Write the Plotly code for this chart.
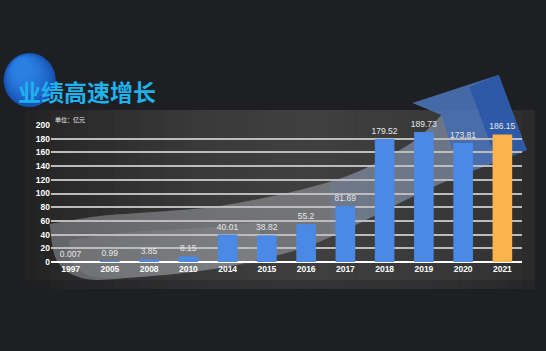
import plotly.graph_objects as go

years = ["1997", "2005", "2008", "2010", "2014", "2015", "2016", "2017", "2018", "2019", "2020", "2021"]
values = [0.007, 0.99, 3.85, 8.15, 40.01, 38.82, 55.2, 81.69, 179.52, 189.73, 173.81, 186.15]
labels = ["0.007", "0.99", "3.85", "8.15", "40.01", "38.82", "55.2", "81.69", "179.52", "189.73", "173.81", "186.15"]
y_ticks = [0, 20, 40, 60, 80, 100, 120, 140, 160, 180, 200]

W, H = 546, 351
L, R, T, B = 51.4, 522.3, 125, 262  # plot area in pixels


def px(x):
    return (x - L) / (R - L)


def py(y):
    return (B - y) / (B - T)


def smooth(pts):
    segs = []
    for i in range(len(pts) - 1):
        p0 = pts[i - 1] if i > 0 else pts[i]
        p1 = pts[i]
        p2 = pts[i + 1]
        p3 = pts[i + 2] if i + 2 < len(pts) else pts[i + 1]
        c1 = (p1[0] + (p2[0] - p0[0]) / 6, p1[1] + (p2[1] - p0[1]) / 6)
        c2 = (p2[0] - (p3[0] - p1[0]) / 6, p2[1] - (p3[1] - p1[1]) / 6)
        segs.append((c1, c2, p2))
    return segs


def fmt(p):
    return f"{px(p[0]):.4f},{py(p[1]):.4f}"


def build(parts):
    out = []
    first = True
    for kind, pts in parts:
        if first:
            out.append("M" + fmt(pts[0]))
            first = False
        if kind == "S":
            for c1, c2, p in smooth(pts):
                out.append("C" + fmt(c1) + " " + fmt(c2) + " " + fmt(p))
        else:
            for p in pts[1:]:
                out.append("L" + fmt(p))
    out.append("Z")
    return " ".join(out)


bar_colors = ["#4a8ae6"] * (len(years) - 1) + ["#fbb34d"]

fig = go.Figure()
fig.add_trace(go.Bar(
    x=years, y=values, width=0.5,
    marker=dict(color=bar_colors, line=dict(width=0)),
    text=labels, textposition="outside", cliponaxis=False, constraintext="none",
    textfont=dict(family="Liberation Sans", size=8.5, color="#e8e8e8"),
    hoverinfo="skip",
))

shapes = []
n = 40
x0p, x1p = 25, 535


def panel_col(t):
    stops = [(0.0, 34), (0.08, 42), (0.35, 58), (0.55, 64), (0.8, 58), (0.95, 50), (1.0, 42)]
    for (a, ca), (b, cb) in zip(stops[:-1], stops[1:]):
        if a <= t <= b:
            return int(ca + (cb - ca) * (t - a) / (b - a))
    return 50


for i in range(n):
    xa = x0p + (x1p - x0p) * i / n
    xb = x0p + (x1p - x0p) * (i + 1) / n + 0.6
    c = panel_col((i + 0.5) / n)
    shapes.append(dict(type="rect", xref="paper", yref="paper", layer="below",
                       x0=px(xa), x1=px(min(xb, x1p)), y0=py(289), y1=py(110),
                       fillcolor=f"rgb({c},{c},{c+1})", line=dict(width=0)))
shapes.append(dict(type="rect", xref="paper", yref="paper", layer="below",
                   x0=px(x0p), x1=px(x1p), y0=py(289), y1=py(280),
                   fillcolor="rgba(20,20,22,0.25)", line=dict(width=0)))

upper = [(50, 224), (100, 216), (153, 212), (220, 206), (300, 190), (360, 171), (413, 142), (442, 115)]
head_pts = [(442, 115), (413, 103), (499, 75), (527, 150)]
lower = [(527, 150), (470, 172), (440, 184), (400, 203), (317, 243), (250, 262), (200, 271), (140, 277), (87, 279), (58, 262), (50, 224)]

body = build([("S", upper), ("L", head_pts), ("S", lower)])
shapes.append(dict(type="path", path=body, xref="paper", yref="paper", layer="below",
                   fillcolor="rgba(228,230,238,0.32)", line=dict(width=0)))

tail_up = [(70, 240), (130, 232), (200, 228), (260, 222)]
tail_lo = [(260, 262), (200, 271), (140, 277), (95, 277), (72, 262), (70, 240)]
tail = build([("S", tail_up), ("L", [(260, 222), (260, 262)]), ("S", tail_lo)])
shapes.append(dict(type="path", path=tail, xref="paper", yref="paper", layer="below",
                   fillcolor="rgba(255,255,255,0.08)", line=dict(width=0)))

up2 = [(330, 184), (360, 171), (413, 142), (442, 115)]
lo2 = [(527, 150), (470, 172), (440, 184), (400, 203), (330, 237)]
body2 = build([("S", up2), ("L", head_pts), ("S", lo2)])
shapes.append(dict(type="path", path=body2, xref="paper", yref="paper", layer="below",
                   fillcolor="rgba(100,140,210,0.20)", line=dict(width=0)))

head = build([("L", [(442, 115), (413, 103), (499, 75), (527, 150), (470, 172), (452, 148)])])
shapes.append(dict(type="path", path=head, xref="paper", yref="paper", layer="below",
                   fillcolor="rgba(55,105,190,0.65)", line=dict(width=0)))
head2 = build([("L", [(470, 87), (499, 75), (527, 150), (497, 161)])])
shapes.append(dict(type="path", path=head2, xref="paper", yref="paper", layer="below",
                   fillcolor="rgba(25,75,165,0.55)", line=dict(width=0)))

# blue circle behind title, soft gradient from upper-left
shapes.append(dict(type="circle", xref="paper", yref="paper", layer="below",
                   x0=px(4), x1=px(56), y0=py(107), y1=py(53),
                   fillcolor="#1248a8", line=dict(width=0)))
steps = 9
for k in range(steps):
    f = k / steps
    xa = 4 + 1.2 * k
    xb = 56 - 3.0 * k
    ya = 53 + 0.6 * k
    yb = 107 - 3.4 * k
    shapes.append(dict(type="circle", xref="paper", yref="paper", layer="below",
                       x0=px(xa), x1=px(xb), y0=py(yb), y1=py(ya),
                       fillcolor="rgba(50,140,245,0.16)", line=dict(width=0)))

annotations = [
    dict(text="<b>业绩高速增长</b>", xref="paper", yref="paper", x=px(16), y=py(91),
         xanchor="left", yanchor="middle", showarrow=False,
         font=dict(family="Noto Sans CJK SC", size=23, color="#20b0ec")),
    dict(text="单位：亿元", xref="paper", yref="paper", x=px(53), y=py(119),
         xanchor="left", yanchor="middle", showarrow=False,
         font=dict(family="Noto Sans CJK SC", size=6, color="#f0f0f0")),
]

fig.update_layout(
    width=W, height=H,
    margin=dict(l=L, r=W - R, t=T, b=H - B, pad=0),
    paper_bgcolor="#1e1f23", plot_bgcolor="rgba(0,0,0,0)",
    showlegend=False, bargap=0.5,
    shapes=shapes, annotations=annotations,
    xaxis=dict(type="category", showgrid=False, zeroline=False, showline=False,
               tickfont=dict(family="Liberation Sans", size=8.5, color="#ffffff", weight="bold"),
               ticks="", fixedrange=True),
    yaxis=dict(range=[0, 200], tickvals=y_ticks, showgrid=True,
               gridcolor="#bcbcbc", gridwidth=1.5,
               zeroline=True, zerolinecolor="#ffffff", zerolinewidth=2,
               showline=False, ticks="",
               tickfont=dict(family="Liberation Sans", size=8.5, color="#ffffff", weight="bold"),
               fixedrange=True),
)

fig.write_html("out.html")
